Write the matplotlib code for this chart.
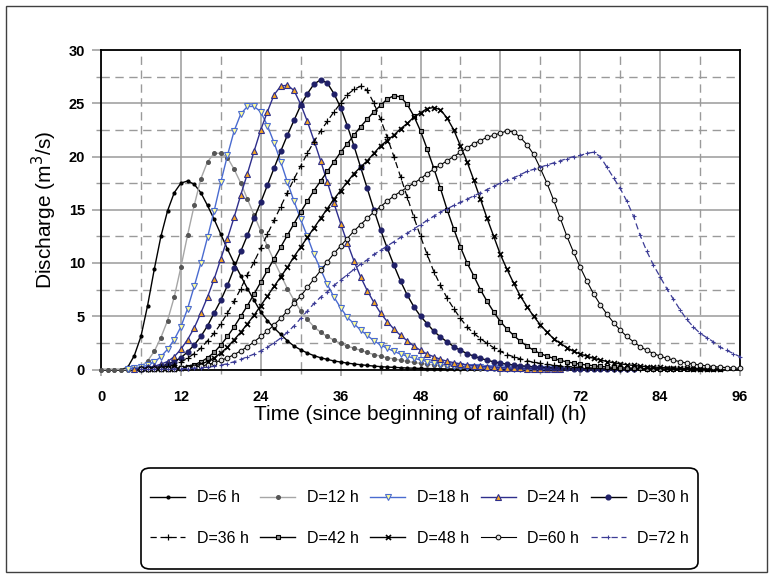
import numpy as np
import matplotlib
matplotlib.use("Agg")
import matplotlib.pyplot as plt
from matplotlib.patches import FancyBboxPatch, Rectangle
from matplotlib.lines import Line2D

plt.rcParams['font.family'] = ['Liberation Sans', 'DejaVu Sans']

# ---------------- data (hourly discharge, m3/s) ----------------
start_6 = 0
q_6 = [0, 0, 0, 0, 0.2, 1.3, 3.1, 6.0, 9.4, 12.5, 14.9, 16.6, 17.5, 17.7, 17.4, 16.6,
       15.4, 14.1, 12.7, 11.3, 10.0, 8.8, 7.6, 6.5, 5.4, 4.6, 3.9, 3.3, 2.7, 2.2, 1.85,
       1.55, 1.3, 1.1, 0.95, 0.8, 0.7, 0.6, 0.52, 0.45, 0.38, 0.32, 0.27, 0.23, 0.2,
       0.17, 0.14, 0.12, 0.1, 0.09, 0.08, 0.07, 0.06, 0.05, 0.04, 0.04, 0.03, 0.03,
       0.02, 0.02, 0.02, 0.02, 0.01, 0.01, 0.01, 0.01, 0.01, 0.01, 0.01, 0.01]

start_12 = 0
q_12 = [0, 0, 0, 0, 0, 0.05, 0.3, 0.8, 1.7, 3.0, 4.6, 6.8, 9.6, 12.6, 15.4, 17.9, 19.5,
        20.3, 20.3, 19.9, 18.8, 17.5, 16.0, 14.5, 13.0, 11.6, 10.2, 8.9, 7.6, 6.5, 5.5,
        4.7, 4.0, 3.5, 3.1, 2.75, 2.45, 2.2, 2.0, 1.8, 1.6, 1.4, 1.25, 1.1, 1.0, 0.87,
        0.76, 0.66, 0.57, 0.5, 0.44, 0.38, 0.33, 0.29, 0.25, 0.22, 0.19, 0.17, 0.15,
        0.13, 0.11, 0.1, 0.09, 0.08, 0.07, 0.06, 0.05, 0.05, 0.04, 0.04]

start_18 = 4
q_18 = [0.05, 0.1, 0.2, 0.4, 0.7, 1.2, 1.9, 2.8, 4.0, 5.7, 7.8, 10.0, 12.4, 14.9, 17.6,
        20.1, 22.4, 24.0, 24.7, 24.7, 24.2, 22.9, 21.3, 19.5, 17.6, 15.8, 14.1, 12.5,
        10.8, 9.4, 8.0, 6.8, 5.8, 4.9, 4.3, 3.7, 3.2, 2.7, 2.3, 2.0, 1.7, 1.45, 1.25,
        1.05, 0.9, 0.75, 0.62, 0.52, 0.44, 0.37, 0.31, 0.26, 0.22, 0.19, 0.16, 0.13,
        0.11, 0.09, 0.08, 0.07, 0.06, 0.05, 0.04, 0.04, 0.03, 0.03]

start_24 = 5
q_24 = [0.05, 0.1, 0.2, 0.3, 0.5, 0.75, 1.2, 1.9, 2.8, 3.9, 5.3, 6.8, 8.5, 10.4, 12.3,
        14.3, 16.4, 18.4, 20.5, 22.5, 24.2, 25.8, 26.6, 26.7, 26.2, 24.9, 23.3, 21.5,
        19.6, 17.6, 15.6, 13.7, 11.9, 10.2, 8.7, 7.4, 6.3, 5.3, 4.5, 3.8, 3.2, 2.7, 2.2,
        1.8, 1.45, 1.2, 0.95, 0.78, 0.64, 0.53, 0.44, 0.37, 0.31, 0.26, 0.22, 0.18,
        0.15, 0.13, 0.11, 0.09, 0.08, 0.07, 0.06, 0.05, 0.04]

start_30 = 6
q_30 = [0.05, 0.1, 0.17, 0.3, 0.5, 0.75, 1.1, 1.65, 2.3, 3.1, 4.1, 5.3, 6.5, 7.9, 9.5,
        11.1, 12.6, 14.2, 15.7, 17.3, 18.9, 20.5, 22.0, 23.4, 24.8, 25.9, 26.8, 27.2,
        26.9, 25.9, 24.6, 22.9, 21.0, 19.0, 17.0, 15.0, 13.1, 11.4, 9.8, 8.3, 7.0, 5.9,
        5.0, 4.3, 3.6, 3.05, 2.6, 2.15, 1.8, 1.5, 1.25, 1.05, 0.87, 0.72, 0.6, 0.5,
        0.42, 0.35, 0.3, 0.25, 0.21, 0.18, 0.15, 0.13, 0.11, 0.09, 0.08, 0.07, 0.06,
        0.05, 0.05, 0.04, 0.04, 0.03, 0.03]

start_36 = 6
q_36 = [0.05, 0.08, 0.13, 0.2, 0.3, 0.45, 0.7, 1.05, 1.5, 2.0, 2.7, 3.4, 4.3, 5.3, 6.4,
        7.6, 8.9, 10.1, 11.4, 12.7, 14.0, 15.3, 16.6, 17.9, 19.1, 20.3, 21.4, 22.4, 23.3,
        24.2, 25.0, 25.8, 26.3, 26.6, 26.2, 25.0, 23.5, 21.8, 20.0, 18.1, 16.2, 14.3,
        12.5, 10.8, 9.2, 7.9, 6.7, 5.7, 4.8, 4.0, 3.4, 2.9, 2.45, 2.05, 1.7, 1.4, 1.2,
        1.0, 0.82, 0.68, 0.57, 0.48, 0.4, 0.34, 0.29, 0.24, 0.2, 0.17, 0.14, 0.12, 0.1,
        0.09, 0.08, 0.07, 0.06, 0.05, 0.05, 0.04, 0.04, 0.03, 0.03]

start_42 = 6
q_42 = [0.01, 0.02, 0.03, 0.04, 0.06, 0.1, 0.17, 0.28, 0.45, 0.7, 1.1, 1.6, 2.3, 3.1,
        4.0, 5.0, 6.0, 7.1, 8.2, 9.3, 10.4, 11.5, 12.6, 13.7, 14.8, 15.8, 16.8, 17.7,
        18.6, 19.5, 20.4, 21.2, 22.0, 22.8, 23.5, 24.2, 24.8, 25.4, 25.7, 25.6, 24.9,
        23.8, 22.4, 20.7, 18.9, 17.0, 15.0, 13.2, 11.5, 10.0, 8.8, 7.5, 6.4, 5.4, 4.5,
        3.8, 3.2, 2.65, 2.2, 1.8, 1.5, 1.25, 1.05, 0.85, 0.72, 0.6, 0.5, 0.42, 0.35,
        0.29, 0.24, 0.2, 0.17, 0.14, 0.12, 0.1, 0.08, 0.07, 0.06, 0.05, 0.04, 0.04,
        0.03, 0.03, 0.02, 0.02, 0.02, 0.02]

start_48 = 6
q_48 = [0.01, 0.01, 0.02, 0.03, 0.04, 0.07, 0.12, 0.2, 0.32, 0.5, 0.75, 1.1, 1.55, 2.1,
        2.8, 3.5, 4.3, 5.1, 6.0, 6.9, 7.8, 8.7, 9.6, 10.6, 11.5, 12.4, 13.3, 14.2, 15.1,
        16.0, 16.8, 17.6, 18.4, 19.0, 19.6, 20.3, 21.0, 21.5, 22.0, 22.6, 23.1, 23.7,
        24.1, 24.5, 24.6, 24.4, 23.6, 22.5, 21.0, 19.5, 17.8, 16.0, 14.2, 12.5, 10.8,
        9.4, 8.1, 6.9, 5.9, 5.0, 4.2, 3.5, 2.9, 2.45, 2.05, 1.7, 1.45, 1.25, 1.05, 0.9,
        0.75, 0.63, 0.53, 0.45, 0.38, 0.32, 0.27, 0.23, 0.19, 0.16, 0.14, 0.12, 0.1,
        0.08, 0.07, 0.06, 0.05, 0.05]

start_60 = 6
q_60 = [0.01, 0.01, 0.02, 0.03, 0.05, 0.07, 0.1, 0.15, 0.22, 0.32, 0.45, 0.62, 0.85, 1.1,
        1.4, 1.75, 2.15, 2.6, 3.1, 3.6, 4.2, 4.8, 5.5, 6.2, 6.9, 7.7, 8.5, 9.3, 10.1,
        10.9, 11.6, 12.3, 13.0, 13.6, 14.2, 14.8, 15.3, 15.8, 16.3, 16.7, 17.1, 17.5,
        17.9, 18.4, 18.8, 19.2, 19.6, 20.0, 20.4, 20.8, 21.2, 21.5, 21.8, 22.0, 22.2,
        22.4, 22.3, 21.8, 21.1, 20.2, 18.9, 17.5, 15.9, 14.2, 12.5, 11.0, 9.6, 8.3, 7.1,
        6.1, 5.2, 4.4, 3.7, 3.1, 2.6, 2.15, 1.8, 1.5, 1.25, 1.05, 0.88, 0.73, 0.6, 0.5,
        0.42, 0.34, 0.28, 0.22, 0.18, 0.14, 0.11]

start_72 = 6
q_72 = [0.01, 0.01, 0.02, 0.03, 0.04, 0.05, 0.07, 0.09, 0.12, 0.16, 0.22, 0.3, 0.4, 0.55,
        0.73, 0.95, 1.2, 1.45, 1.75, 2.1, 2.5, 2.95, 3.5, 4.1, 4.8, 5.5, 6.2, 6.8, 7.3,
        7.9, 8.4, 8.9, 9.4, 9.9, 10.3, 10.8, 11.2, 11.6, 12.0, 12.4, 12.8, 13.2, 13.6,
        14.0, 14.4, 14.8, 15.1, 15.4, 15.7, 16.0, 16.3, 16.6, 16.9, 17.2, 17.5, 17.8,
        18.0, 18.3, 18.6, 18.8, 19.0, 19.2, 19.4, 19.6, 19.8, 20.0, 20.1, 20.3, 20.4,
        20.0, 19.0, 18.0, 17.0, 15.8, 14.4, 12.6, 11.1, 9.8, 8.7, 7.6, 6.6, 5.6, 4.7,
        4.0, 3.4, 3.0, 2.6, 2.1, 1.8, 1.5, 1.2]

labels = ["D=6 h", "D=12 h", "D=18 h", "D=24 h", "D=30 h",
          "D=36 h", "D=42 h", "D=48 h", "D=60 h", "D=72 h"]
series = [(start_6, q_6), (start_12, q_12), (start_18, q_18), (start_24, q_24),
          (start_30, q_30), (start_36, q_36), (start_42, q_42), (start_48, q_48),
          (start_60, q_60), (start_72, q_72)]
x_ticks = [0, 12, 24, 36, 48, 60, 72, 84, 96]
y_ticks = [0, 5, 10, 15, 20, 25, 30]

# ---------------- styles ----------------
styles = [
    dict(color='black', lw=1.0, marker='o', ms=2.0, mfc='black', mec='black'),
    dict(color='#a6a6a6', lw=1.0, marker='o', ms=2.6, mfc='#555555', mec='#555555'),
    dict(color='#4a6bd0', lw=1.0, marker='v', ms=5.0, mfc='#ffff99', mec='#4a6bd0', mew=0.8),
    dict(color='#2e2e8c', lw=1.0, marker='^', ms=5.0, mfc='#f5a623', mec='#2e2e8c', mew=0.8),
    dict(color='black', lw=1.0, marker='o', ms=3.4, mfc='#202068', mec='#202068'),
    dict(color='black', lw=0.9, ls=(0, (5, 3)), marker='+', ms=4.0, mew=0.9),
    dict(color='black', lw=1.0, marker='s', ms=3.4, mfc='#8c8c8c', mec='black', mew=0.8),
    dict(color='black', lw=1.0, marker='x', ms=3.6, mew=1.2),
    dict(color='black', lw=0.8, marker='o', ms=3.4, mfc='#e6e6e6', mec='black', mew=0.7),
    dict(color='#3c3c96', lw=0.9, ls=(0, (5, 3)), marker='+', ms=3.0, mew=0.8),
]

fig = plt.figure(figsize=(7.73, 5.78), dpi=100)
ax = fig.add_axes([101 / 773, 1 - 369.5 / 578, 639 / 773, 319.5 / 578])

handles = []
for (st, q), lab, sty in zip(series, labels, styles):
    t = np.arange(st, st + len(q))
    h, = ax.plot(t, q, label=lab, clip_on=False, zorder=3, **sty)
    handles.append(h)

ax.set_xlim(0, 96)
ax.set_ylim(0, 30)
ax.set_xticks(x_ticks)
ax.set_xticks([v + 6 for v in x_ticks[:-1]], minor=True)
ax.set_yticks(y_ticks)
ax.set_yticks([v + 2.5 for v in y_ticks[:-1]], minor=True)
ax.set_xticklabels([str(v) for v in x_ticks], fontweight='bold', fontsize=10.5)
ax.set_yticklabels([str(v) for v in y_ticks], fontweight='bold', fontsize=10.5)

ax.grid(which='major', color='#9a9a9a', lw=1.1, ls='-')
ax.grid(which='minor', color='#9a9a9a', lw=1.0, ls=(0, (6, 4)))
ax.set_axisbelow(True)
ax.tick_params(axis='y', which='major', length=6.5, color='#9a9a9a', width=1.1, pad=5)
ax.tick_params(axis='y', which='minor', length=3.5, color='#9a9a9a', width=1.0)
ax.tick_params(axis='x', which='major', length=4, color='#9a9a9a', width=1.1, pad=11)
ax.tick_params(axis='x', which='minor', length=3, color='#9a9a9a', width=1.0)
for sp in ax.spines.values():
    sp.set_color('black')
    sp.set_linewidth(1.3)

ax.set_xlabel("Time (since beginning of rainfall) (h)", fontsize=15)
ax.set_ylabel("Discharge (m$^3$/s)", fontsize=15)
ax.xaxis.set_label_coords(0.5, -0.112)
ax.yaxis.set_label_coords(-0.066, 0.5)

order = [0, 5, 1, 6, 2, 7, 3, 8, 4, 9]
fig.legend([handles[i] for i in order], [labels[i] for i in order],
           loc='center', bbox_to_anchor=(419.5 / 773, 1 - 518 / 578),
           bbox_transform=fig.transFigure, frameon=False, ncol=5,
           fontsize=11.5, handlelength=2.2, handletextpad=0.7,
           columnspacing=0.74, labelspacing=1.6, numpoints=1)

fig.patches.append(FancyBboxPatch((141 / 773, 9 / 578), 557 / 773, 101 / 578,
                                  boxstyle='round,pad=0,rounding_size=0.012',
                                  transform=fig.transFigure, fc='none',
                                  ec='black', lw=1.2))
fig.patches.append(Rectangle((6 / 773, 6 / 578), 761 / 773, 566 / 578,
                             transform=fig.transFigure, fc='none',
                             ec='#404040', lw=1.0))

fig.savefig("out.png", dpi=100)
